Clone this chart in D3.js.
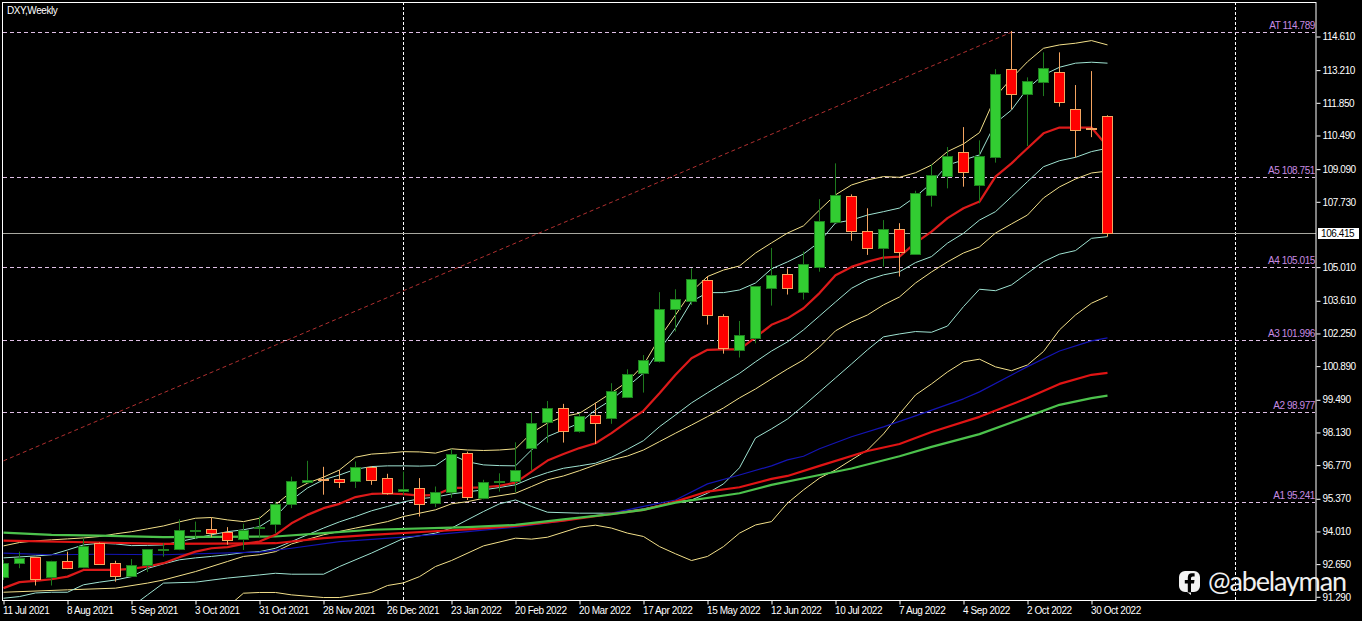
<!DOCTYPE html>
<html><head><meta charset="utf-8">
<script src="https://cdnjs.cloudflare.com/ajax/libs/d3/7.8.5/d3.min.js"></script>
<style>
html,body{margin:0;padding:0;background:#000;overflow:hidden}
svg{display:block}
text{font-family:"Liberation Sans",Arial,sans-serif;font-size:10px;letter-spacing:-0.42px}
</style></head><body>
<svg id="c" width="1362" height="621"></svg>
<script>
const title="DXY,Weekly";
const dateTicks=["11 Jul 2021","8 Aug 2021","5 Sep 2021","3 Oct 2021","31 Oct 2021","28 Nov 2021","26 Dec 2021","23 Jan 2022","20 Feb 2022","20 Mar 2022","17 Apr 2022","15 May 2022","12 Jun 2022","10 Jul 2022","7 Aug 2022","4 Sep 2022","2 Oct 2022","30 Oct 2022"];
const priceTicks=[114.61,113.21,111.85,110.49,109.09,107.73,105.01,103.61,102.25,100.89,99.49,98.13,96.77,95.37,94.01,92.65,91.29];
const lastPrice=106.415;
const levelNames=["AT","A5","A4","A3","A2","A1"];
const levelValues=[114.789,108.751,105.015,101.996,98.977,95.241];

const opens=[92.12,92.69,92.94,92.11,92.77,92.52,93.51,92.69,92.15,92.63,93.22,93.27,94.06,94.10,94.00,93.69,94.17,94.31,95.15,96.06,96.19,96.19,96.10,96.68,96.23,95.69,95.81,95.19,95.64,97.27,95.42,96.07,96.13,97.48,98.58,99.14,98.21,98.85,98.72,99.60,100.60,101.10,103.26,103.59,104.47,102.97,101.55,102.08,104.13,104.72,103.97,105.03,106.88,107.96,106.50,105.82,106.59,105.55,108.00,108.79,109.79,108.42,109.58,113.25,112.21,112.70,113.12,111.58,110.82,111.29];
const closes=[92.69,92.90,92.02,92.77,92.48,93.42,92.67,92.15,92.63,93.27,93.26,94.06,94.09,93.96,93.65,94.09,94.21,95.15,96.10,96.14,96.17,96.06,96.68,96.14,95.60,95.77,95.15,95.64,97.23,95.46,96.06,96.09,96.56,98.52,99.14,98.21,98.82,98.54,99.85,100.55,101.14,103.26,103.68,104.51,103.01,101.66,102.18,104.22,104.67,104.13,105.13,106.92,108.00,106.53,105.82,106.59,105.66,108.09,108.83,109.63,108.98,109.63,113.04,112.21,112.75,113.29,111.87,110.71,110.80,106.42];
const highs=[92.83,93.17,92.95,92.79,93.17,93.73,93.55,92.79,92.86,93.27,93.52,94.52,94.42,94.59,94.19,94.33,94.63,95.25,96.29,96.95,96.70,96.57,96.92,96.73,96.41,96.50,96.23,95.88,97.45,97.33,96.16,96.43,97.72,98.96,99.44,99.32,98.93,99.37,100.18,100.76,101.35,103.97,104.09,104.96,104.64,103.05,102.77,104.23,105.81,104.96,105.66,107.84,109.33,108.04,107.46,106.97,106.84,108.19,109.30,110.01,110.84,110.29,113.25,114.84,112.91,113.95,113.95,112.59,113.17,111.33];
const lows=[91.99,92.48,91.76,91.76,92.44,92.48,92.63,91.92,92.11,92.32,92.96,93.23,93.69,93.77,93.46,93.24,93.73,93.94,94.98,96.06,95.54,95.82,95.82,95.95,95.54,95.53,94.63,95.02,95.41,95.32,95.35,95.67,95.64,96.57,97.71,97.71,98.12,97.65,98.49,99.56,99.79,101.04,102.33,103.44,102.62,101.41,101.25,101.84,103.41,103.87,103.66,104.82,106.88,106.11,105.52,105.03,104.62,105.55,107.53,108.29,108.36,107.67,109.36,111.58,110.05,112.13,111.69,109.58,110.42,106.28];

const midRed=[91.65,91.90,91.95,92.02,92.13,92.41,92.41,92.41,92.45,92.55,92.69,92.94,93.17,93.31,93.36,93.49,93.59,93.87,94.35,94.70,94.98,95.16,95.44,95.57,95.59,95.56,95.50,95.53,95.82,95.82,95.85,95.91,96.04,96.50,96.96,97.23,97.48,97.68,98.10,98.58,99.03,99.76,100.53,101.22,101.57,101.59,101.59,102.09,102.61,102.88,103.30,103.93,104.67,105.02,105.24,105.41,105.45,106.02,106.49,107.05,107.46,107.74,108.78,109.33,109.96,110.58,110.82,110.82,110.82,110.03];
const yellowTop=[93.41,93.55,93.62,93.66,93.70,93.74,93.80,93.91,94.00,94.12,94.24,94.41,94.56,94.59,94.49,94.42,94.56,95.12,95.67,96.02,96.27,96.57,97.10,97.23,97.27,97.33,97.32,97.27,97.45,97.40,97.38,97.40,97.45,98.11,98.52,98.79,98.93,99.35,99.78,100.25,100.94,102.07,103.02,103.99,104.62,104.89,105.06,105.60,106.02,106.43,106.73,107.39,108.02,108.43,108.64,108.78,108.75,108.94,109.26,109.82,110.14,110.61,112.11,112.87,113.56,114.12,114.26,114.33,114.44,114.26];
const cyanTop=[92.91,92.95,92.99,93.04,93.24,93.45,93.52,93.49,93.42,93.43,93.45,93.59,93.73,93.87,94.00,94.08,94.21,94.63,95.32,95.82,96.16,96.36,96.60,96.71,96.74,96.74,96.73,96.75,97.20,96.91,96.78,96.75,96.74,97.40,97.96,98.24,98.52,99.07,99.49,100.04,100.60,101.57,102.48,103.58,103.95,103.95,104.06,104.35,104.94,105.23,105.56,106.06,106.85,106.97,107.18,107.32,107.47,107.94,108.51,109.26,109.47,109.68,111.01,111.55,112.45,113.01,113.33,113.50,113.54,113.50];
const cyanLow=[91.23,91.30,91.45,91.48,91.48,91.79,91.90,91.99,92.13,92.47,92.66,92.83,92.91,92.97,93.04,93.13,93.17,93.31,93.59,93.87,94.15,94.41,94.63,94.87,95.05,95.24,95.37,95.44,95.57,95.66,95.74,95.84,95.95,96.23,96.46,96.64,96.74,96.85,97.10,97.43,97.79,98.37,98.86,99.36,99.78,100.19,100.59,101.07,101.52,101.90,102.40,102.98,103.56,104.13,104.48,104.69,104.82,105.20,105.45,106.01,106.42,106.97,107.32,107.94,108.57,109.19,109.44,109.58,109.82,109.96];

const yellowLowAt=[0,4,7,9,10,12,14,15,16,17,18,20,22,24,25,27,28,29,30,32,33,34,35,36,37,38,39,40,41,42,43,44,45,46,47,48,49,50,51,52,53,54,55,56,57,58,59,60,61,62,63,64,65,66,67,68,69];
const yellowLow=[91.48,91.58,91.65,91.86,91.99,92.34,92.76,92.97,93.04,93.17,93.49,93.87,94.15,94.42,94.63,94.91,95.16,95.25,95.39,95.60,95.88,96.16,96.32,96.54,96.78,96.99,97.15,97.40,97.75,98.10,98.44,98.79,99.15,99.57,99.94,100.36,100.77,101.15,101.69,102.36,102.73,103.02,103.44,103.77,104.35,104.81,105.23,105.60,105.85,106.43,106.81,107.18,107.89,108.35,108.68,108.93,109.01];
const cyanDeepAt=[8,9,10,12,14,16,17,18,20,21,23,25,27,28,30,31,32,33,34,36,38,40,42,43,44,45,46,47,48,49,50,51,52,53,54,55,56,57,58,59,60,61,62,63,64,65,66,67,68,69];
const cyanDeep=[90.87,91.37,91.86,91.90,92.07,92.20,92.27,92.23,92.23,92.55,93.11,93.72,93.94,94.15,94.84,95.16,95.32,95.05,94.81,94.77,94.77,94.95,95.25,95.32,95.60,95.99,96.66,97.90,98.28,98.69,99.24,99.82,100.40,100.98,101.57,102.11,102.23,102.33,102.30,102.56,103.37,104.09,104.03,104.27,104.76,105.24,105.55,105.70,106.21,106.28];
const yellowDeepAt=[14,15,16,17,18,20,21,23,24,25,26,27,28,30,32,33,34,36,37,38,39,40,41,42,43,44,45,46,47,48,49,50,51,52,53,54,55,56,57,58,59,60,61,62,63,64,65,66,67,68,69];
const yellowDeep=[90.87,91.44,91.47,91.47,91.37,91.26,91.26,91.47,91.76,91.87,92.13,92.55,92.80,93.41,93.73,93.69,93.77,94.19,94.27,94.15,93.94,93.80,93.38,93.08,92.80,92.97,93.38,93.94,94.28,94.42,95.19,95.74,96.23,96.57,96.99,97.40,98.07,98.90,99.69,100.15,100.65,101.07,101.18,100.86,100.70,100.94,101.50,102.40,103.02,103.51,103.81];
const blueAt=[0,3,6,10,16,18,21,25,28,29,32,35,38,40,42,44,46,48,49,50,51,53,55,57,60,61,64,66,68,69];
const blueMA=[93.11,93.04,93.06,93.04,93.15,93.31,93.59,93.77,93.94,94.00,94.19,94.45,94.77,95.05,95.32,95.99,96.36,96.74,96.99,97.14,97.45,97.95,98.36,98.82,99.53,99.82,100.87,101.52,101.94,102.07];
const redAt=[0,6,10,17,20,23,28,29,32,35,38,40,42,44,46,48,49,51,54,56,58,61,64,66,68,69];
const redMA=[93.63,93.55,93.49,93.52,93.73,93.87,94.06,94.10,94.24,94.46,94.74,94.91,95.25,95.67,95.85,96.20,96.32,96.74,97.36,97.65,98.15,98.78,99.56,100.15,100.53,100.61];
const greenAt=[0,3,6,10,17,20,23,28,29,32,35,38,40,42,46,48,51,53,56,58,61,64,66,68,69];
const greenMA=[93.96,93.87,93.84,93.77,93.80,93.94,94.08,94.17,94.19,94.28,94.51,94.73,94.91,95.21,95.60,95.95,96.36,96.63,97.14,97.53,98.06,98.79,99.28,99.56,99.66];
const trendAt=[0,63];
const trendVal=[96.95,114.79];
const separators=[25,77];

const svg=d3.select("#c");
const L=3,R=1316,T=2,B=600;
const x=d3.scaleLinear().domain([0,69]).range([3.5,1107.5]);
const y=d3.scaleLinear().domain([91.29,114.61]).range([596.8,36.5]);
svg.append("defs").append("clipPath").attr("id","pc").append("rect").attr("x",L).attr("y",T).attr("width",R-L).attr("height",B-T);
svg.append("rect").attr("width",1362).attr("height",621).attr("fill","#000");
const plot=svg.append("g").attr("clip-path","url(#pc)");

// period separators
plot.selectAll(".sep").data(separators).join("line").attr("class","sep")
  .attr("x1",d=>x(d)).attr("x2",d=>x(d)).attr("y1",T).attr("y2",B)
  .attr("stroke","#fff").attr("stroke-dasharray","3,2").attr("stroke-width",1);

// levels
plot.selectAll(".lvl").data(levelValues).join("line").attr("class","lvl")
  .attr("x1",L).attr("x2",R-1).attr("y1",d=>Math.round(y(d))+.5).attr("y2",d=>Math.round(y(d))+.5)
  .attr("stroke","#e0bfe6").attr("stroke-dasharray","4,3").attr("stroke-width",1);

// current price line
plot.append("line").attr("x1",L).attr("x2",R).attr("y1",Math.round(y(lastPrice))+.5).attr("y2",Math.round(y(lastPrice))+.5)
  .attr("stroke","#a8a8a0").attr("stroke-width",1);

// trend line
const series=(at,val)=>at.map((a,i)=>[a,val[i]]);
const lineGen=d3.line().x(d=>x(d[0])).y(d=>y(d[1]));
const idx=a=>a.map((_,i)=>i);
plot.append("path").attr("d",lineGen(series(trendAt,trendVal))).attr("fill","none")
  .attr("stroke","#b03030").attr("stroke-dasharray","4,3").attr("stroke-width",1);

const lines=[
 [yellowDeepAt,yellowDeep,"#f3e08a",1],
 [cyanDeepAt,cyanDeep,"#9fe3d2",1],
 [yellowLowAt,yellowLow,"#f3e08a",1],
 [idx(cyanLow),cyanLow,"#9fe3d2",1],
 [idx(yellowTop),yellowTop,"#f3e08a",1],
 [idx(cyanTop),cyanTop,"#9fe3d2",1],
 [blueAt,blueMA,"#1414b4",1.2],
 [redAt,redMA,"#e01414",2.2],
 [greenAt,greenMA,"#4cc24c",2.2],
 [idx(midRed),midRed,"#dc1a1a",2.2]
];
plot.selectAll(".ma").data(lines).join("path").attr("class","ma")
  .attr("d",d=>lineGen(series(d[0],d[1]))).attr("fill","none")
  .attr("stroke",d=>d[2]).attr("stroke-width",d=>d[3]).attr("stroke-linejoin","round");

// candles
const candles=opens.map((o,i)=>({i,o,c:closes[i],h:highs[i],l:lows[i],up:closes[i]>=o}));
const g=plot.selectAll(".cd").data(candles).join("g").attr("class","cd");
g.append("line").attr("x1",d=>Math.floor(x(d.i))+.5).attr("x2",d=>Math.floor(x(d.i))+.5)
  .attr("y1",d=>y(d.h)).attr("y2",d=>y(d.l))
  .attr("stroke",d=>d.up?"#1e7a1e":"#f4a460").attr("stroke-width",1);
g.append("rect").attr("x",d=>Math.floor(x(d.i))-5+.5).attr("width",10)
  .attr("y",d=>Math.round(y(Math.max(d.o,d.c)))+.5)
  .attr("height",d=>Math.max(Math.round(y(Math.min(d.o,d.c)))-Math.round(y(Math.max(d.o,d.c))),1))
  .attr("fill",d=>d.up?"#32cd32":"#ff0000")
  .attr("stroke",d=>d.up?"#1f7f1f":"#f4a460").attr("stroke-width",1);

// frame
svg.append("rect").attr("x",L-.5).attr("y",T+.5).attr("width",R-L+.5).attr("height",B-T)
  .attr("fill","none").attr("stroke","#fff").attr("stroke-width",1);

// axes
const ax=d3.axisRight(y).tickValues(priceTicks).tickFormat(d3.format(".3f")).tickSize(4).tickPadding(2);
const gy=svg.append("g").attr("transform",`translate(${R+.5},0)`).call(ax);
const bx=d3.axisBottom(x).tickValues(dateTicks.map((_,i)=>i*4)).tickFormat(d=>dateTicks[d/4]).tickSize(4).tickPadding(1);
const gx=svg.append("g").attr("transform",`translate(0,${B+.5})`).call(bx);
gx.selectAll("text").attr("text-anchor","start").attr("dx",-1).attr("dy",".85em");
[gy,gx].forEach(a=>{a.select(".domain").remove();a.selectAll("line").attr("stroke","#fff");a.selectAll("text").attr("fill","#fff");a.attr("font-family",null).attr("font-size",null)});

// level labels
svg.selectAll(".ll").data(levelValues).join("text").attr("class","ll")
  .attr("x",R-1).attr("y",d=>y(d)-3).attr("text-anchor","end").attr("fill","#c78be0")
  .text((d,i)=>levelNames[i]+" "+d3.format(".3f")(d));

// current price tag
svg.append("rect").attr("x",R+2).attr("y",Math.round(y(lastPrice))-5).attr("width",41).attr("height",11).attr("fill","#fff");
svg.append("text").attr("x",R+5).attr("y",y(lastPrice)+4).attr("fill","#000").text(d3.format(".3f")(lastPrice));

// title
svg.append("text").attr("x",7).attr("y",14).attr("fill","#fff").text(title);

// watermark
const wm=svg.append("g");
wm.append("path").attr("d","M1185,571 h9 a6,6 0 0 1 6,6 v9 a6,6 0 0 1 -6,6 h-3 v3 l-4,-3 h-2 a6,6 0 0 1 -6,-6 v-9 a6,6 0 0 1 6,-6 z").attr("fill","#f2f2f2");
wm.append("path").attr("d","M1191,592.5 v-9 h3 l.5,-3.5 h-3.5 v-2 q0,-1.6 1.8,-1.6 h1.8 v-3.2 h-2.8 q-4,0 -4,4.3 v2.5 h-3 v3.5 h3 v9 z").attr("fill","#000");
wm.append("text").attr("x",1208).attr("y",590.5).attr("fill","#f0f0f0")
  .style("font-family","Lato,'Open Sans',sans-serif").style("font-size","27px").style("font-weight","400").style("letter-spacing","0")
  .attr("textLength",139).text("@abelayman");
</script>
</body></html>
